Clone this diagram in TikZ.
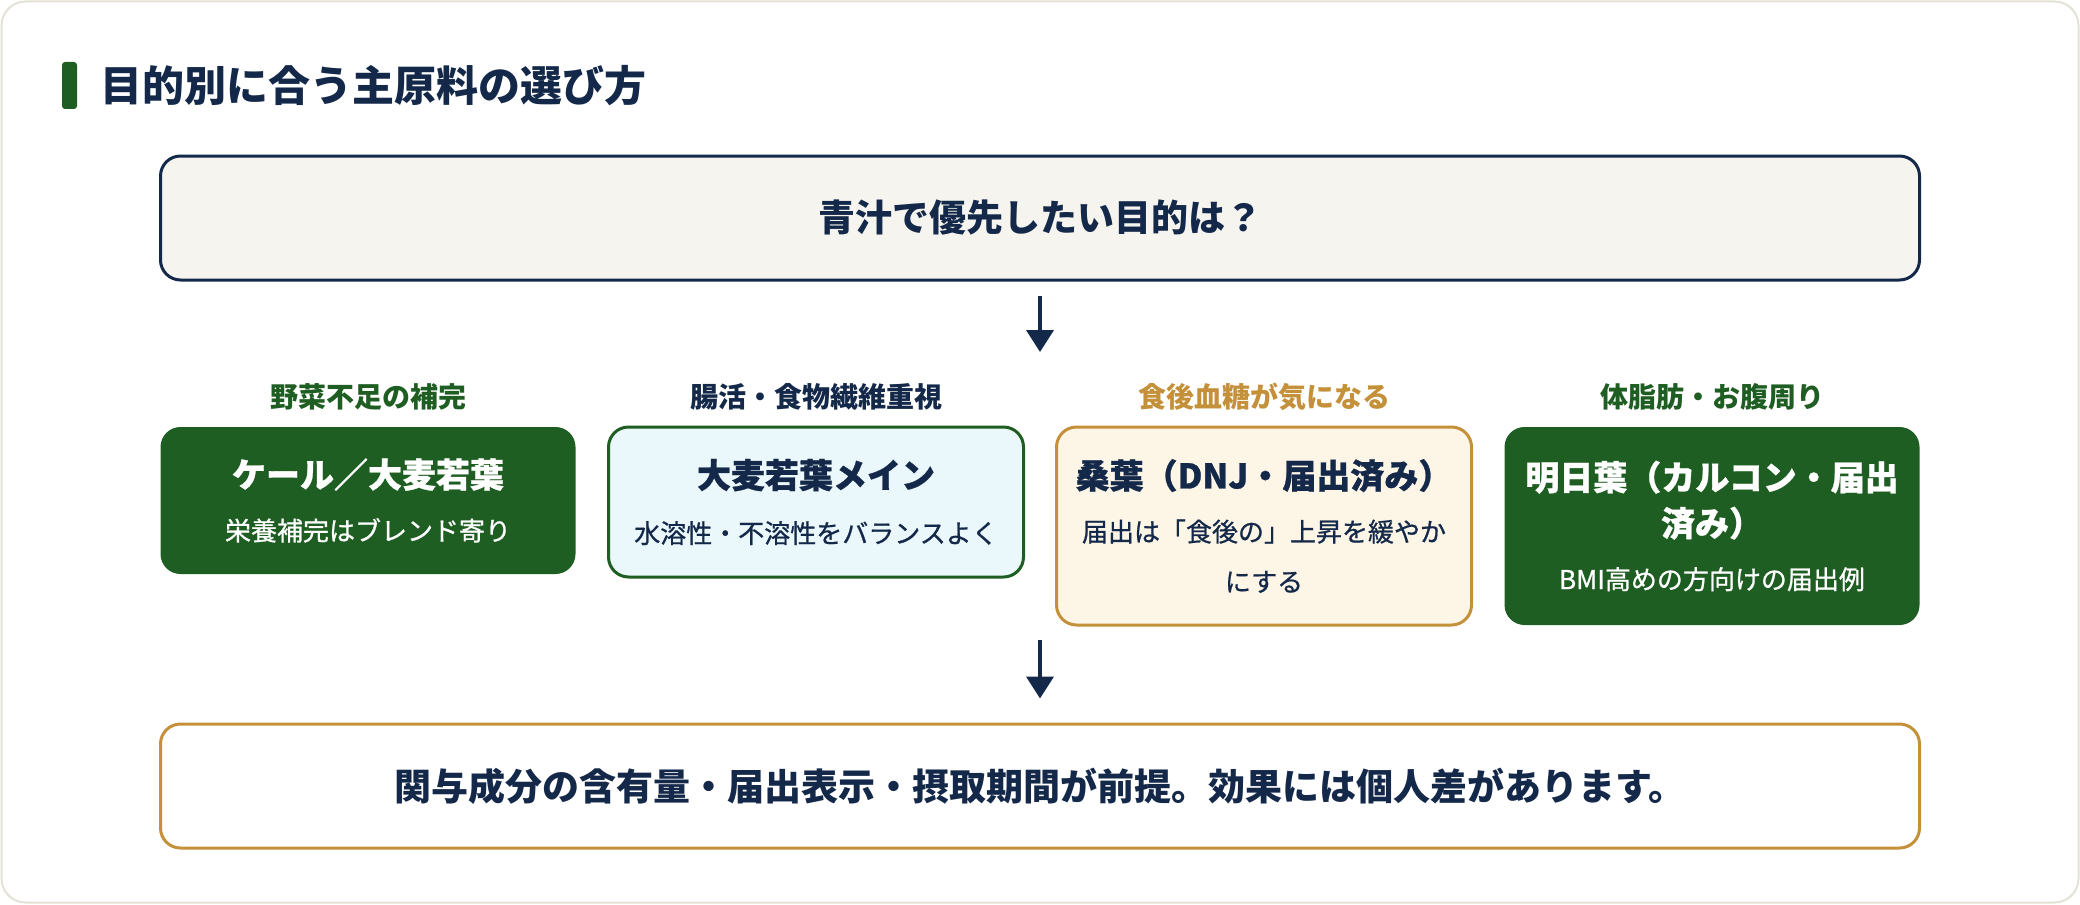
\documentclass[tikz,border=0pt]{standalone}
\usepackage{fontspec}
\setmainfont{Noto Sans CJK JP}
\newfontfamily\subfont{Noto Sans CJK JP}[FakeBold=0.8]
\usetikzlibrary{arrows.meta, positioning}

\definecolor{navy}{HTML}{14294A}
\definecolor{leaf}{HTML}{1F5E22}
\definecolor{gold}{HTML}{C4913A}
\definecolor{cream}{HTML}{FDF5E6}
\definecolor{sky}{HTML}{EAF7FB}
\definecolor{paper}{HTML}{F5F4EF}
\definecolor{cardline}{HTML}{E4E2D6}

\newcommand\boxtitle[1]{{\bfseries\fontsize{17}{23}\selectfont #1}}

\begin{document}
\begin{tikzpicture}[
  x=0.5pt, y=-0.5pt,
  panel/.style={draw=navy, line width=1.5pt, rounded corners=10pt, minimum width=879.5pt, minimum height=62pt, text=navy, font=\bfseries\fontsize{18.5}{22}\selectfont},
  choice/.style={rounded corners=10pt, outer sep=0pt, minimum width=207.5pt, align=center, font=\subfont\fontsize{13}{25}\selectfont},
  cat/.style={inner sep=0pt, font=\bfseries\fontsize{14}{16}\selectfont},
  arr/.style={-{Triangle[length=11pt, width=13.5pt]}, line width=2pt, draw=navy}
]
  \useasboundingbox (0,0) rectangle (2080,904);
  \draw[cardline, line width=1pt, fill=white, rounded corners=12pt] (1.5,1.5) rectangle (2078.5,902.5);

  % Heading
  \node[fill=leaf, rounded corners=1.5pt, inner sep=0pt, minimum width=7.5pt, minimum height=23.5pt] (bar) at (69.5,85.5) {};
  \node[right=11.5pt of bar, inner sep=0pt, text=navy, font=\bfseries\fontsize{21}{25}\selectfont] (heading) {目的別に合う主原料の選び方};

  % Question
  \node[panel, fill=paper] (question) at (1040,218) {青汁で優先したい目的は？};
  \coordinate (split) at (1040,352);

  % Choices
  \node[choice, fill=leaf, text=white, minimum height=73.5pt, anchor=north] (kale) at (368,427)
    {\boxtitle{ケール／大麦若葉}\\[1.5pt]栄養補完はブレンド寄り};
  \node[choice, draw=leaf, line width=1.5pt, fill=sky, text=navy, minimum height=75pt,
    right=16.5pt of kale.north east, anchor=north west] (barley)
    {\boxtitle{大麦若葉メイン}\\[2.5pt]水溶性・不溶性をバランスよく};
  \node[choice, draw=gold, line width=1.5pt, fill=cream, text=navy, minimum height=99pt,
    right=16.5pt of barley.north east, anchor=north west] (mulberry)
    {\boxtitle{桑葉（DNJ・届出済み）}\\[1.5pt]届出は「食後の」上昇を緩やか\\にする};
  \node[choice, fill=leaf, text=white, minimum height=99pt,
    right=16.5pt of mulberry.north east, anchor=north west] (ashitaba)
    {\boxtitle{明日葉（カルコン・届出}\\[-2pt]\boxtitle{済み）}\\[1.5pt]BMI高めの方向けの届出例};

  % Purposes
  \node[cat, text=leaf, above=8pt of kale] (veg) {野菜不足の補完};
  \node[cat, text=navy, above=8pt of barley] (fiber) {腸活・食物繊維重視};
  \node[cat, text=gold, above=8pt of mulberry] (sugar) {食後血糖が気になる};
  \node[cat, text=leaf, above=8pt of ashitaba] (fat) {体脂肪・お腹周り};

  % Note
  \node[panel, draw=gold, fill=white] (note) at (1040,786) {関与成分の含有量・届出表示・摂取期間が前提。効果には個人差があります。};
  \path (question.south |- mulberry.south) ++(0,15) coordinate (gather);

  % Arrows
  \draw[arr] ([yshift=-7pt]question.south) -- (split);
  \draw[arr] (gather) -- ([yshift=12pt]note.north);

\end{tikzpicture}
\end{document}
